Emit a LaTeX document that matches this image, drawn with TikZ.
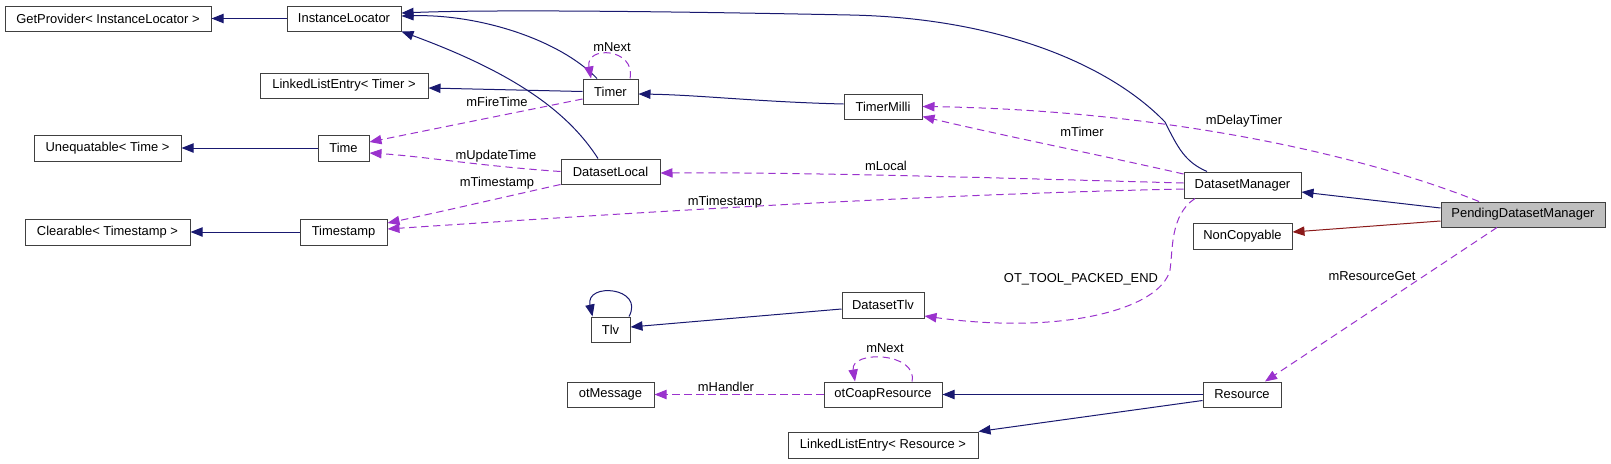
\documentclass[tikz,border=0pt]{standalone}
\usepackage{fontspec}
\setmainfont{Liberation Sans}
\usetikzlibrary{arrows.meta,calc}
\definecolor{eblue}{HTML}{191970}
\definecolor{epurple}{HTML}{9A32CD}
\definecolor{ered}{HTML}{8B1A1A}
\definecolor{bord}{HTML}{404040}
\definecolor{gfill}{HTML}{BFBFBF}
\newcommand\bx[7][]{\node[box,#1,minimum width={(#5-#3)*0.75pt},minimum height={(#6-#4)*0.75pt}] (#2) at ({(#3+#5)/2},{(#4+#6)/2}) {#7};}
\tikzset{
  box/.style={draw=bord, line width=0.75pt, rectangle, inner sep=0pt, font=\fontsize{9.7}{11}\selectfont, text=black},
  inh/.style={draw=eblue, line width=0.75pt, -{Triangle[length=9pt,width=7pt]}},
  priv/.style={draw=ered, line width=0.75pt, -{Triangle[length=9pt,width=7pt]}},
  use/.style={draw=epurple, line width=0.75pt, dash pattern=on 5.5pt off 3.5pt, -{Triangle[length=9pt,width=7pt]}},
  lbl/.style={font=\fontsize{9.7}{11}\selectfont, inner sep=0pt, text=black}
}
\begin{document}
\begin{tikzpicture}[x=0.75pt,y=-0.75pt]
\useasboundingbox (0,0) rectangle (1611,464);
% nodes
\bx{GP}{5}{6}{211}{31}{GetProvider< InstanceLocator >}
\bx{IL}{287}{6}{401}{31}{InstanceLocator}
\bx{LLT}{260}{73}{428}{98}{LinkedListEntry< Timer >}
\bx{Timer}{583}{79}{638}{104}{Timer}
\bx{TM}{844}{94}{922}{119}{TimerMilli}
\bx{UT}{34}{135}{181}{161}{Unequatable< Time >}
\bx{Time}{318}{135}{369}{161}{Time}
\bx{DL}{561}{159}{660}{184}{DatasetLocal}
\bx{CT}{25}{219}{190}{245}{Clearable< Timestamp >}
\bx{TS}{300}{219}{387}{245}{Timestamp}
\bx{DM}{1184}{172}{1301}{198}{DatasetManager}
\bx[fill=gfill]{PDM}{1441}{202}{1605}{227}{PendingDatasetManager}
\bx{NC}{1193}{223}{1292}{249}{NonCopyable}
\bx{DT}{842}{292}{924}{318}{DatasetTlv}
\bx{Tlv}{591}{317}{630}{342}{Tlv}
\bx{OM}{567}{382}{654}{407}{otMessage}
\bx{OCR}{824}{382}{942}{407}{otCoapResource}
\bx{Res}{1203}{382}{1281}{407}{Resource}
\bx{LLR}{788}{432}{978}{458}{LinkedListEntry< Resource >}
% inheritance edges
\draw[inh] (IL.west) -- (GP.east);
\draw[inh] ($(Timer.north)+(-13.5,0)$) .. controls (560,40) and (480,14) .. ($(IL.east)+(0,-2.5)$);
\draw[inh] ($(DL.north)+(-12.5,0)$) .. controls (570,115) and (520,75) .. (IL.south east);
\draw[inh] ($(DM.north)+(-35.5,0)$) .. controls (1185,162) and (1178,148) .. (1165,122)
   .. controls (1110,65) and (1000,18) .. (850,15) .. controls (700,12) and (500,9) .. ($(IL.east)+(0,-5.5)$);
\draw[inh] (Timer.west) -- ($(LLT.east)+(0,2.5)$);
\draw[inh] ($(TM.west)+(0,-2.5)$) .. controls (760,102) and (700,95) .. ($(Timer.east)+(0,2.5)$);
\draw[inh] (Time.west) -- (UT.east);
\draw[inh] (TS.west) -- (CT.east);
\draw[inh] ($(Tlv.north)+(18.5,0)$) .. controls (645,287) and (585,282) .. ($(Tlv.north)+(-18,0)$);
\draw[inh] ($(DT.west)+(0,4)$) -- ($(Tlv.east)+(0,-2.5)$);
\draw[inh] (Res.west) -- (OCR.east);
\draw[inh] ($(Res.west)+(0,6)$) -- (LLR.north east);
\draw[inh] ($(PDM.west)+(0,-6.5)$) -- ($(DM.east)+(0,7)$);
\draw[priv] ($(PDM.west)+(0,6.5)$) -- ($(NC.east)+(0,-4)$);
% usage edges
\draw[use] ($(Timer.north)+(19.5,0)$) .. controls (636,48) and (585,45) .. ($(Timer.north)+(-19.5,0)$);
\node[lbl] (lNext1) at (612,47) {mNext};
\draw[use] ($(Timer.west)+(0,7.5)$) -- ($(Time.east)+(0,-6)$);
\node[lbl] (lFire) at (497,102) {mFireTime};
\draw[use] (DL.west) .. controls (480,166) and (420,156) .. ($(Time.east)+(0,5)$);
\node[lbl] (lUpd) at (496,156) {mUpdateTime};
\draw[use] (DL.south west) .. controls (500,198) and (440,212) .. ($(TS.east)+(0,-9)$);
\node[lbl] (lTs1) at (497,183) {mTimestamp};
\draw[use] ($(DM.west)+(0,4)$) .. controls (900,195) and (600,215) .. ($(TS.east)+(0,-3)$);
\node[lbl] (lTs2) at (725,202) {mTimestamp};
\draw[use] ($(DM.west)+(0,-2)$) .. controls (1000,178) and (800,172) .. ($(DL.east)+(0,1.5)$);
\node[lbl] (lLoc) at (886,166) {mLocal};
\draw[use] ($(DM.west)+(0,-11)$) .. controls (1100,155) and (1000,135) .. ($(TM.east)+(0,10)$);
\node[lbl] (lTim) at (1082,132) {mTimer};
\draw[use] ($(PDM.north)+(-44,0)$) .. controls (1350,150) and (1150,110) .. (TM.east);
\node[lbl] (lDel) at (1244,121) {mDelayTimer};
\draw[use] ($(DM.south)+(-47.5,0)$) .. controls (1170,215) and (1173,250) .. (1170,270)
   .. controls (1160,310) and (1060,335) .. ($(DT.east)+(0,11)$);
\node[lbl] (lOT) at (1081,279) {OT\_TOOL\_PACKED\_END};
\draw[use] ($(PDM.south)+(-26,0)$) -- ($(Res.north)+(23,0)$);
\node[lbl] (lRG) at (1372,276) {mResourceGet};
\draw[use] ($(OCR.north)+(29,0)$) .. controls (918,352) and (850,350) .. ($(OCR.north)+(-28,0)$);
\node[lbl] (lNext2) at (885,348) {mNext};
\draw[use] (OCR.west) -- (OM.east);
\node[lbl] (lHand) at (726,387) {mHandler};
\end{tikzpicture}
\end{document}
